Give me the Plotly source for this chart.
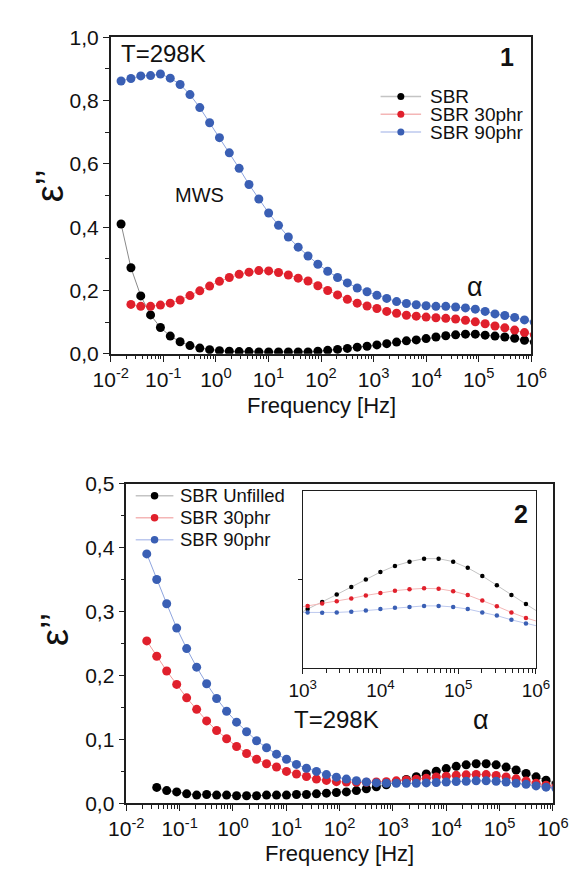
import plotly.graph_objects as go

W, H = 584, 878
FONT = "Liberation Sans, Arial, sans-serif"

# Measurement frequencies (Hz), shared by both panels
FREQ_HZ = [0.0157, 0.0242, 0.0372, 0.0572, 0.0881, 0.1355, 0.2085, 0.321, 0.494, 0.760,
           1.169, 1.800, 2.770, 4.263, 6.559, 10.09, 15.53, 23.90, 36.78, 56.60,
           87.10, 134.0, 206.3, 317.4, 488.5, 751.6, 1157, 1780, 2739, 4216,
           6486, 9982, 15360, 23640, 36380, 55980, 86150, 132600, 204000, 313900,
           483100, 743300, 1144000]

# Panel 1: dielectric loss
P1_SBR = [0.410, 0.272, 0.183, 0.123, 0.083, 0.056, 0.038, 0.026, 0.018, 0.013,
          0.010, 0.008, 0.007, 0.007, 0.006, 0.006, 0.006, 0.006, 0.006, 0.006,
          0.008, 0.011, 0.014, 0.017, 0.021, 0.024, 0.028, 0.032, 0.037, 0.041,
          0.044, 0.048, 0.053, 0.057, 0.060, 0.062, 0.062, 0.059, 0.056, 0.053,
          0.049, 0.043, 0.037]
P1_SBR30 = [None, 0.156, 0.150, 0.150, 0.154, 0.160, 0.170, 0.184, 0.199, 0.214,
            0.229, 0.241, 0.251, 0.258, 0.263, 0.262, 0.257, 0.249, 0.239, 0.230,
            0.215, 0.200, 0.186, 0.172, 0.160, 0.151, 0.143, 0.134, 0.128, 0.122,
            0.119, 0.116, 0.114, 0.112, 0.110, 0.106, 0.101, 0.095, 0.088, 0.082,
            0.075, 0.067, 0.060]
P1_SBR90 = [0.862, 0.870, 0.878, 0.879, 0.884, 0.871, 0.851, 0.819, 0.778, 0.730,
            0.683, 0.635, 0.586, 0.535, 0.489, 0.445, 0.406, 0.369, 0.337, 0.309,
            0.283, 0.261, 0.241, 0.224, 0.208, 0.196, 0.185, 0.175, 0.165, 0.159,
            0.155, 0.152, 0.150, 0.150, 0.148, 0.145, 0.141, 0.134, 0.126, 0.121,
            0.115, 0.107, 0.100]

# Panel 2: dielectric loss
P2_SBR = [None, None, 0.025, 0.020, 0.018, 0.015, 0.013, 0.014, 0.013, 0.013,
          0.012, 0.012, 0.012, 0.013, 0.013, 0.013, 0.014, 0.014, 0.015, 0.016,
          0.017, 0.018, 0.020, 0.023, 0.026, 0.029, 0.0335, 0.0375, 0.0417, 0.046,
          0.0502, 0.0544, 0.0579, 0.0603, 0.062, 0.062, 0.0603, 0.0568, 0.0522, 0.0469,
          0.0415, 0.0364, 0.031]
P2_SBR30 = [None, 0.254, 0.230, 0.207, 0.186, 0.165, 0.147, 0.129, 0.114, 0.101,
            0.089, 0.078, 0.069, 0.062, 0.057, 0.050, 0.046, 0.042, 0.038, 0.036,
            0.034, 0.0335, 0.033, 0.033, 0.0335, 0.034, 0.0353, 0.0366, 0.0379, 0.0395,
            0.0412, 0.0426, 0.0439, 0.0447, 0.0452, 0.045, 0.0436, 0.0414, 0.0384, 0.0351,
            0.0316, 0.0285, 0.026]
P2_SBR90 = [None, 0.390, 0.350, 0.312, 0.274, 0.242, 0.213, 0.187, 0.164, 0.144,
            0.127, 0.112, 0.098, 0.087, 0.077, 0.069, 0.061, 0.055, 0.050, 0.045,
            0.041, 0.038, 0.0355, 0.0335, 0.032, 0.0315, 0.0316, 0.0314, 0.0316, 0.032,
            0.0327, 0.0335, 0.0342, 0.0347, 0.0353, 0.0353, 0.0347, 0.0335, 0.0316, 0.0298,
            0.0274, 0.0254, 0.0235]

P1_NAMES = ["SBR", "SBR 30phr", "SBR 90phr"]
P2_NAMES = ["SBR Unfilled", "SBR 30phr", "SBR 90phr"]

P1_YTICKS = [0.0, 0.2, 0.4, 0.6, 0.8, 1.0]
P1_YTEXT = ["0,0", "0,2", "0,4", "0,6", "0,8", "1,0"]
P1_YMINOR = [0.1, 0.3, 0.5, 0.7, 0.9]
P2_YTICKS = [0.0, 0.1, 0.2, 0.3, 0.4, 0.5]
P2_YTEXT = ["0,0", "0,1", "0,2", "0,3", "0,4", "0,5"]
P2_YMINOR = [0.05, 0.15, 0.25, 0.35, 0.45]

MARK = ["#000000", "#e0202c", "#3a5fb4"]
LINE = ["#8a8a8a", "#f29a9a", "#8ea4de"]
LEG_LINE = ["#c4c4c4", "#f4b6b6", "#bcc8ee"]
AX = "#1e1e1e"


def px_x(p):
    return p / W


def px_y(p):
    return 1 - p / H


def log_axis(lo, hi, dom, anchor, size=21):
    exps = list(range(lo, hi + 1))
    return dict(
        type="log", range=[lo, hi], domain=dom, anchor=anchor,
        tickmode="array", tickvals=[10.0 ** e for e in exps],
        ticktext=[f"10<sup>{e}</sup>" for e in exps],
        ticks="outside", ticklen=6, tickwidth=1.3, tickcolor=AX,
        minor=dict(tickmode="array",
                   tickvals=[m * 10.0 ** e for e in range(lo, hi) for m in range(2, 10)],
                   ticks="outside", ticklen=3.5, tickwidth=1, tickcolor=AX, showgrid=False),
        showline=True, linecolor=AX, linewidth=1.5, mirror=True,
        showgrid=False, zeroline=False,
        tickfont=dict(family=FONT, size=size, color="#111"),
    )


def lin_axis(rng, dom, anchor, vals, text, minor):
    return dict(
        range=rng, domain=dom, anchor=anchor,
        tickmode="array", tickvals=vals, ticktext=text,
        ticks="outside", ticklen=6, tickwidth=1.3, tickcolor=AX,
        minor=dict(tickmode="array", tickvals=minor, ticks="outside",
                   ticklen=4, tickwidth=1, tickcolor=AX, showgrid=False),
        showline=True, linecolor=AX, linewidth=1.5, mirror=True,
        showgrid=False, zeroline=False,
        tickfont=dict(family=FONT, size=21, color="#111"),
    )


fig = go.Figure()

for i, ys in enumerate([P1_SBR, P1_SBR30, P1_SBR90]):
    fig.add_trace(go.Scatter(
        x=FREQ_HZ, y=ys, name=P1_NAMES[i], mode="lines+markers",
        marker=dict(color=MARK[i], size=9, line=dict(width=0)),
        line=dict(color=LINE[i], width=1), xaxis="x", yaxis="y", showlegend=False))

for i, ys in enumerate([P2_SBR, P2_SBR30, P2_SBR90]):
    fig.add_trace(go.Scatter(
        x=FREQ_HZ, y=ys, name=P2_NAMES[i], mode="lines+markers",
        marker=dict(color=MARK[i], size=9, line=dict(width=0)),
        line=dict(color=LINE[i], width=1), xaxis="x2", yaxis="y2", showlegend=False))

# inset: alpha-relaxation region of panel 2
for i, ys in enumerate([P2_SBR, P2_SBR30, P2_SBR90]):
    fig.add_trace(go.Scatter(
        x=FREQ_HZ, y=ys, name=P2_NAMES[i], mode="lines+markers",
        marker=dict(color=MARK[i], size=4.5, line=dict(width=0)),
        line=dict(color=LEG_LINE[i], width=1), xaxis="x3", yaxis="y3", showlegend=False))

top_x = [px_x(98.5), px_x(545)]
top_y = [px_y(351), px_y(26)]
bot_x = [px_x(115), px_x(568)]
bot_y = [px_y(812.7), px_y(484.2)]
ins_x = [px_x(302.3), px_x(550)]
ins_y = [px_y(674), px_y(492.3)]

ins_xaxis = log_axis(3, 6, ins_x, "y3", size=19)
ins_xaxis.update(linewidth=1.2, ticklen=5)
ins_yaxis = dict(range=[0, 0.1], domain=ins_y, anchor="x3",
                 tickmode="array", tickvals=[0.05], showticklabels=False,
                 ticks="outside", ticklen=4, tickwidth=1, tickcolor=AX,
                 showline=True, linecolor=AX, linewidth=1.2, mirror=True,
                 showgrid=False, zeroline=False)

fig.update_layout(
    width=W, height=H, margin=dict(l=0, r=0, t=0, b=0),
    paper_bgcolor="white", plot_bgcolor="white",
    font=dict(family=FONT, color="#111"),
    xaxis=log_axis(-2, 6, top_x, "y"),
    yaxis=lin_axis([0, 1.0], top_y, "x", P1_YTICKS, P1_YTEXT, P1_YMINOR),
    xaxis2=log_axis(-2, 6, bot_x, "y2"),
    yaxis2=lin_axis([0, 0.5], bot_y, "x2", P2_YTICKS, P2_YTEXT, P2_YMINOR),
    xaxis3=ins_xaxis,
    yaxis3=ins_yaxis,
)

annotations = []
shapes = []


def label(text, x, y, size, xanchor="center", bold=False, angle=0):
    annotations.append(dict(
        text=f"<b>{text}</b>" if bold else text, x=px_x(x), y=px_y(y),
        xref="paper", yref="paper", xanchor=xanchor, yanchor="middle",
        showarrow=False, textangle=angle,
        font=dict(family=FONT, size=size, color="#111")))


# axis titles
label("Frequency [Hz]", 322, 404, 22)
label("Frequency [Hz]", 341.5, 864, 22)
label("ε’’", 34, 179, 38, angle=-90)
label("ε’’", 40, 634, 38, angle=-90)

# panel texts
label("T=298K", 107, 43, 24, xanchor="left")
label("MWS", 193, 188, 20)
label("α", 485, 282, 27)
label("1", 519, 46, 25, bold=True)
label("T=298K", 291, 727, 24, xanchor="left")
label("α", 492, 727, 27)
label("2", 534, 516, 25, bold=True)


def legend(names, rows, x0, x1, xm, xt, size, dot):
    for i, (name, y) in enumerate(zip(names, rows)):
        shapes.append(dict(type="line", xref="paper", yref="paper",
                           x0=px_x(x0), x1=px_x(x1), y0=px_y(y), y1=px_y(y),
                           line=dict(color=LEG_LINE[i], width=1.5)))
        shapes.append(dict(type="circle", xref="paper", yref="paper",
                           xsizemode="pixel", ysizemode="pixel",
                           xanchor=px_x(xm), yanchor=px_y(y),
                           x0=-dot / 2, x1=dot / 2, y0=-dot / 2, y1=dot / 2,
                           fillcolor=MARK[i], line=dict(width=0)))
        label(name, xt, y, size, xanchor="left")


legend(P1_NAMES, [86.7, 105.0, 123.3], 385, 428, 406.5, 435, 19, 7)
legend(P2_NAMES, [496.7, 519.3, 542.0], 125, 165, 145, 170, 18.5, 7.5)

fig.update_layout(annotations=annotations, shapes=shapes)

fig.write_html("out.html")
